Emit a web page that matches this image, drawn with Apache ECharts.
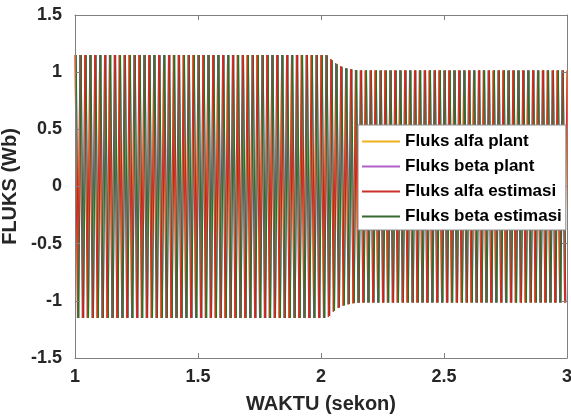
<!DOCTYPE html>
<html>
<head>
<meta charset="utf-8">
<script src="https://cdn.jsdelivr.net/npm/echarts@6/dist/echarts.min.js"></script>
<style>
html,body{margin:0;padding:0;background:#fff;}
#chart{width:571px;height:417px;}
</style>
</head>
<body>
<div id="chart"></div>
<script>
// Axis ticks
const xTicks = [1, 1.5, 2, 2.5, 3];
const yTicks = [-1.5, -1, -0.5, 0, 0.5, 1, 1.5];

// Series names
const seriesNames = ['Fluks alfa plant', 'Fluks beta plant', 'Fluks alfa estimasi', 'Fluks beta estimasi'];

// Peak sampling: alfa peaks every half-cycle (50 Hz) from t = 1.000 s, beta peaks shifted a quarter cycle
const alfaStart = 1.0;
const betaStart = 1.005;
const peakStep = 0.01;

// Alfa flux peak values (Wb) (amplitude ~1.15 then decaying to ~1.015 after t = 2.02 s)
const alfaPlant = [
  1.15,-1.15,1.15,-1.15,1.15,-1.15,1.15,-1.15,1.15,-1.15,
  1.15,-1.15,1.15,-1.15,1.15,-1.15,1.15,-1.15,1.15,-1.15,
  1.15,-1.15,1.15,-1.15,1.15,-1.15,1.15,-1.15,1.15,-1.15,
  1.15,-1.15,1.15,-1.15,1.15,-1.15,1.15,-1.15,1.15,-1.15,
  1.15,-1.15,1.15,-1.15,1.15,-1.15,1.15,-1.15,1.15,-1.15,
  1.15,-1.15,1.15,-1.15,1.15,-1.15,1.15,-1.15,1.15,-1.15,
  1.15,-1.15,1.15,-1.15,1.15,-1.15,1.15,-1.15,1.15,-1.15,
  1.15,-1.15,1.15,-1.15,1.15,-1.15,1.15,-1.15,1.15,-1.15,
  1.15,-1.15,1.15,-1.15,1.15,-1.15,1.15,-1.15,1.15,-1.15,
  1.15,-1.15,1.15,-1.15,1.15,-1.15,1.15,-1.15,1.15,-1.15,
  1.15,-1.15,1.15,
  -1.14,1.115,-1.095,1.077,-1.063,1.052,-1.043,1.036,-1.031,1.026,-1.022,1.019,-1.017,
  1.015,-1.015,1.015,-1.015,1.015,-1.015,1.015,-1.015,1.015,-1.015,
  1.015,-1.015,1.015,-1.015,1.015,-1.015,1.015,-1.015,1.015,-1.015,
  1.015,-1.015,1.015,-1.015,1.015,-1.015,1.015,-1.015,1.015,-1.015,
  1.015,-1.015,1.015,-1.015,1.015,-1.015,1.015,-1.015,1.015,-1.015,
  1.015,-1.015,1.015,-1.015,1.015,-1.015,1.015,-1.015,1.015,-1.015,
  1.015,-1.015,1.015,-1.015,1.015,-1.015,1.015,-1.015,1.015,-1.015,
  1.015,-1.015,1.015,-1.015,1.015,-1.015,1.015,-1.015,1.015,-1.015,
  1.015,-1.015,1.015,-1.015,1.015,-1.015,1.015,-1.015,1.015,-1.015,
  1.015,-1.015,1.015,-1.015,1.015
];

// Beta flux peak values (Wb)
const betaPlant = [
  1.15,-1.15,1.15,-1.15,1.15,-1.15,1.15,-1.15,1.15,-1.15,
  1.15,-1.15,1.15,-1.15,1.15,-1.15,1.15,-1.15,1.15,-1.15,
  1.15,-1.15,1.15,-1.15,1.15,-1.15,1.15,-1.15,1.15,-1.15,
  1.15,-1.15,1.15,-1.15,1.15,-1.15,1.15,-1.15,1.15,-1.15,
  1.15,-1.15,1.15,-1.15,1.15,-1.15,1.15,-1.15,1.15,-1.15,
  1.15,-1.15,1.15,-1.15,1.15,-1.15,1.15,-1.15,1.15,-1.15,
  1.15,-1.15,1.15,-1.15,1.15,-1.15,1.15,-1.15,1.15,-1.15,
  1.15,-1.15,1.15,-1.15,1.15,-1.15,1.15,-1.15,1.15,-1.15,
  1.15,-1.15,1.15,-1.15,1.15,-1.15,1.15,-1.15,1.15,-1.15,
  1.15,-1.15,1.15,-1.15,1.15,-1.15,1.15,-1.15,1.15,-1.15,
  1.15,-1.15,
  1.147,-1.13,1.105,-1.086,1.07,-1.057,1.047,-1.039,1.033,-1.028,1.024,-1.02,1.018,-1.016,
  1.015,-1.015,1.015,-1.015,1.015,-1.015,1.015,-1.015,1.015,-1.015,
  1.015,-1.015,1.015,-1.015,1.015,-1.015,1.015,-1.015,1.015,-1.015,
  1.015,-1.015,1.015,-1.015,1.015,-1.015,1.015,-1.015,1.015,-1.015,
  1.015,-1.015,1.015,-1.015,1.015,-1.015,1.015,-1.015,1.015,-1.015,
  1.015,-1.015,1.015,-1.015,1.015,-1.015,1.015,-1.015,1.015,-1.015,
  1.015,-1.015,1.015,-1.015,1.015,-1.015,1.015,-1.015,1.015,-1.015,
  1.015,-1.015,1.015,-1.015,1.015,-1.015,1.015,-1.015,1.015,-1.015,
  1.015,-1.015,1.015,-1.015,1.015,-1.015,1.015,-1.015,1.015,-1.015,
  1.015,-1.015,1.015,-1.015
];

// Estimated fluxes track the plant fluxes (indistinguishable at this scale)
const alfaEstimasi = alfaPlant.slice();
const betaEstimasi = betaPlant.slice();

const seriesColors = ['#EDB120', '#B060C8', '#CC302A', '#36682F'];

function toPairs(start, vals) {
  return vals.map((v, i) => [+(start + i * peakStep).toFixed(4), v]);
}

const seriesData = [
  toPairs(alfaStart, alfaPlant),
  toPairs(betaStart, betaPlant),
  toPairs(alfaStart, alfaEstimasi),
  toPairs(betaStart, betaEstimasi)
];

const FONT = 'Liberation Sans, Arial, sans-serif';
const axisColor = '#808080';
const textColor = '#262626';

const chart = echarts.init(document.getElementById('chart'), null, {renderer: 'canvas'});

const commonX = {
  type: 'value', min: xTicks[0], max: xTicks[xTicks.length - 1], interval: 0.5,
  splitLine: {show: false}, z: 20,
  axisLine: {show: true, onZero: false, lineStyle: {color: axisColor, width: 1}},
  axisTick: {show: true, inside: true, length: 5, lineStyle: {color: axisColor}}
};
const commonY = {
  type: 'value', min: yTicks[0], max: yTicks[yTicks.length - 1], interval: 0.5,
  splitLine: {show: false}, z: 20,
  axisLine: {show: true, onZero: false, lineStyle: {color: axisColor, width: 1}},
  axisTick: {show: true, inside: true, length: 5, lineStyle: {color: axisColor}}
};

chart.setOption({
  animation: false,
  backgroundColor: '#ffffff',
  grid: {left: 75, right: 4, top: 15, bottom: 59, containLabel: false, outerBoundsMode: 'none'},
  xAxis: [
    Object.assign({}, commonX, {
      position: 'bottom',
      axisLabel: {show: true, margin: 10, color: textColor, fontSize: 18, fontWeight: 'bold', fontFamily: FONT},
      name: 'WAKTU (sekon)', nameLocation: 'middle', nameGap: 36,
      nameTextStyle: {color: textColor, fontSize: 20, fontWeight: 'bold', fontFamily: FONT}
    }),
    Object.assign({}, commonX, {position: 'top', axisLabel: {show: false}})
  ],
  yAxis: [
    Object.assign({}, commonY, {
      position: 'left',
      axisLabel: {show: true, margin: 13, color: textColor, fontSize: 18, fontWeight: 'bold', fontFamily: FONT},
      name: 'FLUKS (Wb)', nameLocation: 'middle', nameGap: 48,
      nameTextStyle: {color: textColor, fontSize: 20, fontWeight: 'bold', fontFamily: FONT}
    }),
    Object.assign({}, commonY, {position: 'right', axisLabel: {show: false}})
  ],
  legend: {
    orient: 'vertical', left: 358, top: 125, z: 100, zlevel: 1,
    backgroundColor: '#ffffff', borderColor: '#8c8c8c', borderWidth: 1,
    padding: [8, 4, 5, 4],
    itemWidth: 38, itemHeight: 2, itemGap: 8, icon: 'rect',
    textStyle: {color: '#000', fontSize: 17, lineHeight: 17, fontWeight: 'bold', fontFamily: FONT},
    data: seriesNames
  },
  series: seriesNames.map((name, i) => ({
    name: name, type: 'line', data: seriesData[i],
    showSymbol: false, symbol: 'none', sampling: null,
    color: seriesColors[i],
    lineStyle: {color: seriesColors[i], width: 1},
    z: 2
  }))
});
</script>
</body>
</html>
